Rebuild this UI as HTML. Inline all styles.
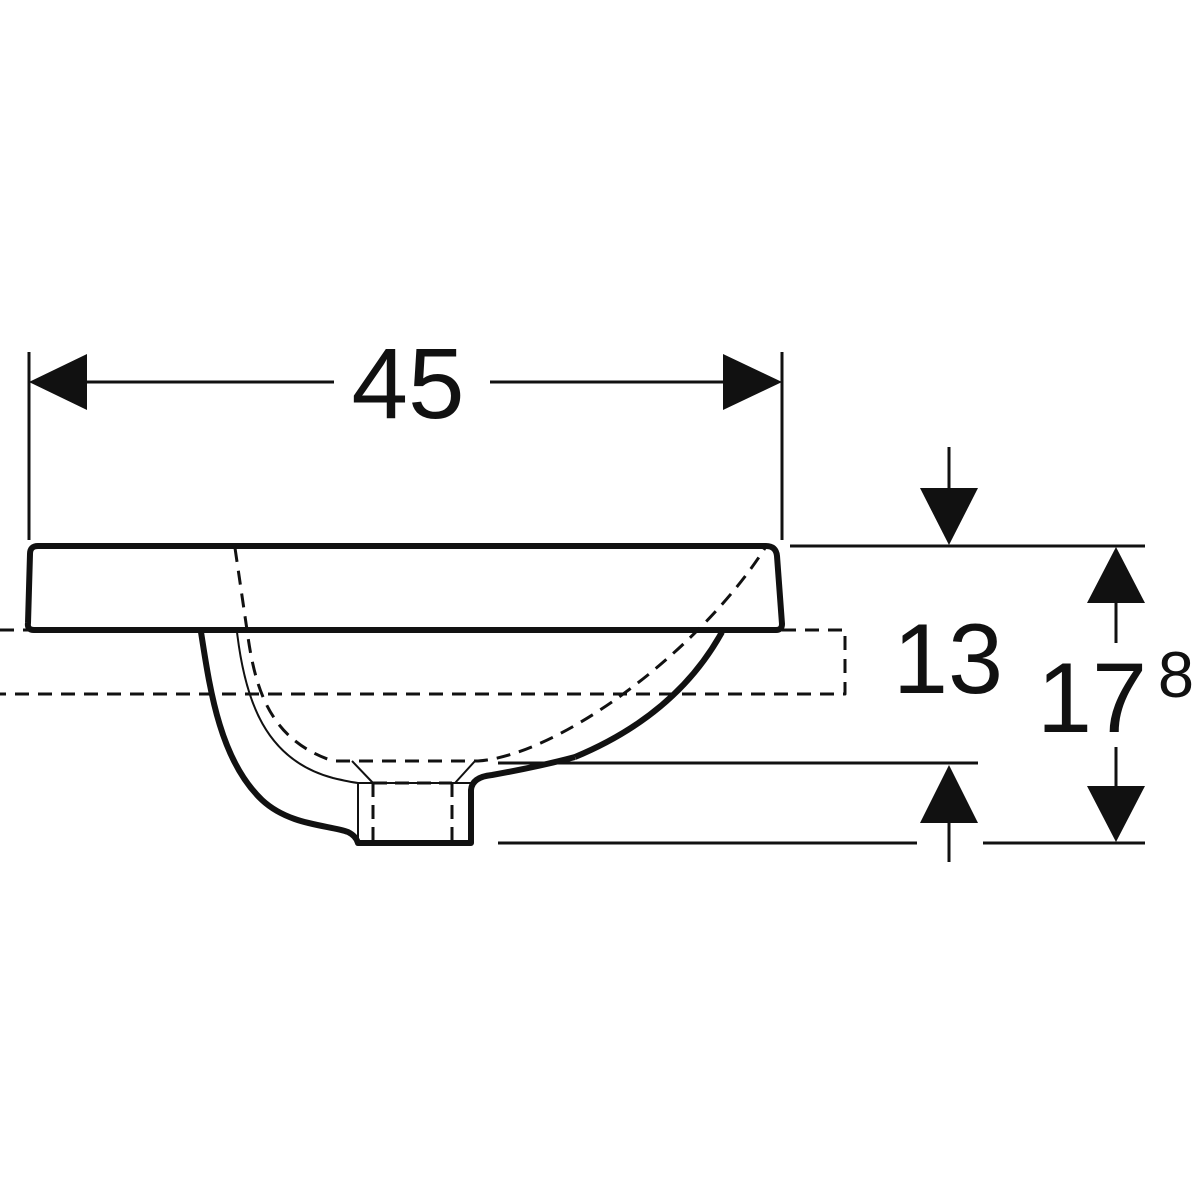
<!DOCTYPE html>
<html><head><meta charset="utf-8"><style>html,body{margin:0;padding:0;background:#fff}svg{display:block}</style></head>
<body>
<svg width="1200" height="1200" viewBox="0 0 1200 1200" xmlns="http://www.w3.org/2000/svg">
<rect width="1200" height="1200" fill="#fff"/>
<g stroke="#111" fill="none" stroke-linejoin="round">
  <!-- dimension 45 -->
  <line x1="29" y1="352" x2="29" y2="540" stroke-width="3"/>
  <line x1="782" y1="352" x2="782" y2="540" stroke-width="3"/>
  <line x1="87" y1="382" x2="334" y2="382" stroke-width="3"/>
  <line x1="490" y1="382" x2="723" y2="382" stroke-width="3"/>
  <!-- slab -->
  <path d="M38,546 L766,546 Q776,546 777,556 L782,624 Q782,630 776,630 L34,630 Q27,630 28,623 L30,554 Q30,546 38,546 Z" stroke-width="6"/>
  <!-- dashed cabinet -->
  <path d="M0,630 L845,630 L845,694 L0,694" stroke-width="3" stroke-dasharray="14,9"/>
  <!-- outer left curve -->
  <path d="M201,632 C210,690 220,760 262,800 C290,826 330,825 348,832 Q356,836 358,843 L471,843 L471,790 Q472,777 492,775 C520,770 545,765 575,757" stroke-width="6"/>
  <path d="M575,757 C640,730 690,690 722,632" stroke-width="6"/>
  <!-- inner thin line -->
  <path d="M237,632 C245,700 265,760 333,778 Q350,782 358,783 L471,783" stroke-width="2"/>
  <line x1="358" y1="783" x2="358" y2="843" stroke-width="2"/>
  <!-- dashed inner bowl -->
  <path d="M235,548 L247,630 C255,690 270,740 333,761 L478,761 C560,755 700,650 765,548" stroke-width="3" stroke-dasharray="14,9"/>
  <path d="M352,761 L373,783 M475,761 L455,783" stroke-width="2"/>
  <path d="M373,783 L452,783 M373,783 L373,843 M452,783 L452,843" stroke-width="3" stroke-dasharray="14,8"/>
  <!-- right dimension lines -->
  <line x1="790" y1="546" x2="1145" y2="546" stroke-width="3"/>
  <line x1="498" y1="763" x2="978" y2="763" stroke-width="3"/>
  <line x1="498" y1="843" x2="917" y2="843" stroke-width="3"/>
  <line x1="983" y1="843" x2="1145" y2="843" stroke-width="3"/>
  <line x1="949" y1="447" x2="949" y2="490" stroke-width="3"/>
  <line x1="949" y1="820" x2="949" y2="862" stroke-width="3"/>
  <line x1="1116" y1="600" x2="1116" y2="643" stroke-width="3"/>
  <line x1="1116" y1="747" x2="1116" y2="790" stroke-width="3"/>
</g>
<g fill="#111">
  <polygon points="29,382 87,354 87,410"/>
  <polygon points="782,382 723,354 723,410"/>
  <polygon points="949,545 920,488 978,488"/>
  <polygon points="949,765 920,823 978,823"/>
  <polygon points="1116,547 1087,603 1145,603"/>
  <polygon points="1116,842 1087,786 1145,786"/>
</g>
<g font-family="Liberation Sans, sans-serif" fill="#111">
  <text x="408" y="418" font-size="100" text-anchor="middle" textLength="113" lengthAdjust="spacingAndGlyphs">45</text>
  <text x="948" y="693" font-size="99" text-anchor="middle">13</text>
  <text x="1092" y="732" font-size="99" text-anchor="middle">17</text>
  <text x="1176" y="697" font-size="65" text-anchor="middle">8</text>
</g>
</svg>
</body></html>
